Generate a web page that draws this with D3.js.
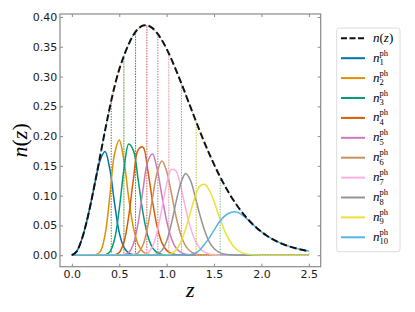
<!DOCTYPE html>
<html>
<head>
<meta charset="utf-8">
<script src="https://cdn.jsdelivr.net/npm/d3@7/dist/d3.min.js"></script>
<style>
  body { margin: 0; background: #fff; }
  svg { display: block; }
</style>
</head>
<body>
<svg width="415" height="312"></svg>
<script>
// redshift grid (step 0.05)
const zGrid = [0.00,0.05,0.10,0.15,0.20,0.25,0.30,0.35,0.40,0.45,0.50,0.55,0.60,0.65,0.70,0.75,0.80,0.85,0.90,0.95,
  1.00,1.05,1.10,1.15,1.20,1.25,1.30,1.35,1.40,1.45,1.50,1.55,1.60,1.65,1.70,1.75,1.80,1.85,1.90,1.95,
  2.00,2.05,2.10,2.15,2.20,2.25,2.30,2.35,2.40,2.45,2.50];

// total n(z)
const nz = [0,.0062,.0245,.0522,.0872,.1265,.1680,.2090,.2480,.2830,.3120,.3350,.3545,.3700,.3804,.3856,.3857,.3813,.3728,.3610,
  .3463,.3293,.3105,.2907,.2701,.2493,.2287,.2084,.1888,.1701,.1524,.1359,.1206,.1064,.0935,.0818,.0712,.0618,.0533,.0458,
  .0393,.0335,.0285,.0242,.0204,.0171,.0144,.0120,.0100,.0083,.0069];

// photometric bins
const bin1 = [0,.0062,.0245,.0522,.0872,.1260,.1600,.1740,.1450,.0880,.0380,.0130,.0035,.0010,.0002,0,0,0,0,0,
  0,0,0,0,0,0,0,0,0,0,0,0,0,0,0,0,0,0,0,0,0,0,0,0,0,0,0,0,0,0,0];
const bin2 = [0,0,0,0,0,.0007,.0060,.0340,.0980,.1700,.1935,.1580,.0960,.0460,.0178,.0058,.0017,.0004,0,0,
  0,0,0,0,0,0,0,0,0,0,0,0,0,0,0,0,0,0,0,0,0,0,0,0,0,0,0,0,0,0,0];
const bin3 = [0,0,0,0,0,0,0,.0005,.0053,.0265,.0774,.1447,.1868,.1756,.1259,.0713,.0330,.0128,.0043,.0013,
  .0003,0,0,0,0,0,0,0,0,0,0,0,0,0,0,0,0,0,0,0,0,0,0,0,0,0,0,0,0,0,0];
const bin4 = [0,0,0,0,0,0,0,0,0,.0005,.0046,.0223,.0657,.1284,.1772,.1815,.1438,.0912,.0476,.0211,
  .0081,.0028,.0009,.0002,0,0,0,0,0,0,0,0,0,0,0,0,0,0,0,0,0,0,0,0,0,0,0,0,0,0,0];
const bin5 = [0,0,0,0,0,0,0,0,0,0,0,.0006,.0043,.0192,.0553,.1095,.1568,.1699,.1448,.0999,
  .0575,.0282,.0120,.0046,.0016,.0005,.0001,0,0,0,0,0,0,0,0,0,0,0,0,0,0,0,0,0,0,0,0,0,0,0,0];
const bin6 = [0,0,0,0,0,0,0,0,0,0,0,0,0,.0006,.0040,.0170,.0480,.0950,.1390,.1580,
  .1410,.1040,.0640,.0340,.0158,.0066,.0025,.0009,.0003,0,0,0,0,0,0,0,0,0,0,0,0,0,0,0,0,0,0,0,0,0,0];
const bin7 = [0,0,0,0,0,0,0,0,0,0,0,0,0,0,0,.0006,.0037,.0145,.0394,.0785,
  .1194,.1440,.1410,.1139,.0788,.0472,.0249,.0118,.0050,.0020,.0007,.0002,0,0,0,0,0,0,0,0,0,0,0,0,0,0,0,0,0,0,0];
const bin8 = [0,0,0,0,0,0,0,0,0,0,0,0,0,0,0,0,0,.0003,.0020,.0081,
  .0240,.0530,.0900,.1210,.1370,.1260,.0990,.0680,.0415,.0225,.0112,.0051,.0021,.0009,.0003,.0001,0,0,0,0,0,0,0,0,0,0,0,0,0,0,0];
const bin9 = [0,0,0,0,0,0,0,0,0,0,0,0,0,0,0,0,0,0,0,.0001,
  .0006,.0026,.0088,.0220,.0440,.0715,.0985,.1160,.1190,.1090,.0900,.0670,.0455,.0281,.0158,.0083,.0040,.0018,.0008,.0003,
  .0001,0,0,0,0,0,0,0,0,0,0];
const bin10 = [0,0,0,0,0,0,0,0,0,0,0,0,0,0,0,0,0,0,0,0,
  0,0,0,0,.0002,.0010,.0034,.0088,.0184,.0290,.0420,.0545,.0640,.0700,.0727,.0718,.0672,.0605,.0530,.0458,
  .0393,.0335,.0285,.0242,.0204,.0171,.0144,.0120,.0100,.0083,.0069];

const bins = [bin1, bin2, bin3, bin4, bin5, bin6, bin7, bin8, bin9, bin10];
const binColors = ["#0173b2","#de8f05","#029e73","#d55e00","#cc78bc","#ca9161","#fbafe4","#949494","#ece133","#56b4e9"];

// bin edges and n(z) at each edge
const edges = [0, 0.416, 0.549, 0.672, 0.791, 0.907, 1.023, 1.157, 1.312, 1.565, 2.5];
const edgeTops = [0, 0.258, 0.3345, 0.3750, 0.3858, 0.3713, 0.3385, 0.2879, 0.2238, 0.1313, 0.0069];

const xTicks = [0, 0.5, 1.0, 1.5, 2.0, 2.5];
const yTicks = [0, 0.05, 0.10, 0.15, 0.20, 0.25, 0.30, 0.35, 0.40];

var svg = d3.select("svg"),
    margin = {top: 14, right: 94.3, bottom: 45.3, left: 60},
    width = +svg.attr("width") - margin.left - margin.right,
    height = +svg.attr("height") - margin.top - margin.bottom;

svg.append("rect").attr("width", 415).attr("height", 312).attr("fill", "#fff");

var x = d3.scaleLinear().domain([-0.125, 2.625]).range([0, width]),
    y = d3.scaleLinear().domain([-0.0193, 0.405]).range([height, 0]);

var g = svg.append("g")
    .attr("transform", "translate(" + margin.left + "," + margin.top + ")");

var spine = "#8a8a8a";

// axes, ticks pointing in
var ax = g.append("g")
    .attr("transform", "translate(0," + height + ")")
    .call(d3.axisBottom(x).tickValues(xTicks).tickSize(-3).tickPadding(3.8).tickFormat(d3.format(".1f")));
var ay = g.append("g")
    .call(d3.axisLeft(y).tickValues(yTicks).tickSize(-3).tickPadding(2.7).tickFormat(d3.format(".2f")));
var at = g.append("g")
    .call(d3.axisTop(x).tickValues(xTicks).tickSize(-3).tickFormat(""));
var ar = g.append("g")
    .attr("transform", "translate(" + width + ",0)")
    .call(d3.axisRight(y).tickValues(yTicks).tickSize(-3).tickFormat(""));

[ax, ay, at, ar].forEach(function(a) {
  a.select(".domain").remove();
  a.selectAll("line").attr("stroke", spine).attr("stroke-width", 1);
  a.selectAll("text").attr("fill", "#1a1a1a")
    .style("font-family", "'DejaVu Sans', sans-serif").style("font-size", "11px");
});

var line = d3.line()
    .x(function(d) { return x(d[0]); })
    .y(function(d) { return y(d[1]); })
    .curve(d3.curveCatmullRom);

// bins: curve + dotted outline of the bin under n(z)
bins.forEach(function(b, i) {
  g.append("path")
    .datum(zGrid.map(function(z, k) { return [z, b[k]]; }))
    .attr("fill", "none")
    .attr("stroke", binColors[i])
    .attr("stroke-width", 1.5)
    .attr("d", line);

  var lo = edges[i], hi = edges[i + 1];
  var pts = [[lo, 0], [lo, edgeTops[i]]];
  zGrid.forEach(function(z, k) { if (z > lo && z < hi) pts.push([z, nz[k]]); });
  pts.push([hi, edgeTops[i + 1]], [hi, 0]);
  g.append("path")
    .attr("fill", "none")
    .attr("stroke", binColors[i])
    .attr("stroke-width", 1)
    .attr("stroke-dasharray", "1,1.65")
    .attr("d", "M" + pts.map(function(p) { return x(p[0]) + "," + y(p[1]); }).join("L") + "Z");
});

// total n(z)
g.append("path")
  .datum(zGrid.map(function(z, k) { return [z, nz[k]]; }))
  .attr("fill", "none")
  .attr("stroke", "#111")
  .attr("stroke-width", 2)
  .attr("stroke-dasharray", "7,3")
  .attr("d", line);

// frame
g.append("rect")
  .attr("width", width).attr("height", height)
  .attr("fill", "none").attr("stroke", spine).attr("stroke-width", 1.2);

var serif = "'Liberation Serif', 'DejaVu Serif', serif";

// axis labels
svg.append("text")
  .attr("x", margin.left + width / 2).attr("y", 296.5)
  .attr("text-anchor", "middle")
  .style("font-family", serif).style("font-size", "22px").style("font-style", "italic")
  .text("z");

var yl = svg.append("text")
  .attr("transform", "translate(27," + (margin.top + height / 2) + ") rotate(-90)")
  .attr("text-anchor", "middle")
  .style("font-family", serif).style("font-size", "22px");
yl.append("tspan").style("font-style", "italic").text("n");
yl.append("tspan").text("(");
yl.append("tspan").style("font-style", "italic").text("z");
yl.append("tspan").text(")");

// legend
var lg = svg.append("g");
lg.append("rect")
  .attr("x", 336.7).attr("y", 28).attr("width", 63.3).attr("height", 223.7)
  .attr("rx", 2.5).attr("fill", "#fff").attr("stroke", "#dcdcdc").attr("stroke-width", 1);

var rowY = function(i) { return 38.3 + i * 19.9; };

lg.append("line")
  .attr("x1", 341).attr("x2", 365).attr("y1", rowY(0)).attr("y2", rowY(0))
  .attr("stroke", "#111").attr("stroke-width", 2).attr("stroke-dasharray", "6,2.5");
var t0 = lg.append("text").attr("x", 373).attr("y", rowY(0) + 4)
  .style("font-family", serif).style("font-size", "13px");
t0.append("tspan").style("font-style", "italic").text("n");
t0.append("tspan").text("(");
t0.append("tspan").style("font-style", "italic").text("z");
t0.append("tspan").text(")");

binColors.forEach(function(c, i) {
  var yy = rowY(i + 1);
  lg.append("line")
    .attr("x1", 341).attr("x2", 365).attr("y1", yy).attr("y2", yy)
    .attr("stroke", c).attr("stroke-width", 2);
  lg.append("text").attr("x", 373).attr("y", yy + 3.5)
    .style("font-family", serif).style("font-size", "13px").style("font-style", "italic")
    .text("n");
  lg.append("text").attr("x", 379.6).attr("y", yy - 2.5)
    .style("font-family", serif).style("font-size", "8.5px")
    .text("ph");
  lg.append("text").attr("x", 379.6).attr("y", yy + 7)
    .style("font-family", serif).style("font-size", "8.5px")
    .text(String(i + 1));
});
</script>
</body>
</html>
